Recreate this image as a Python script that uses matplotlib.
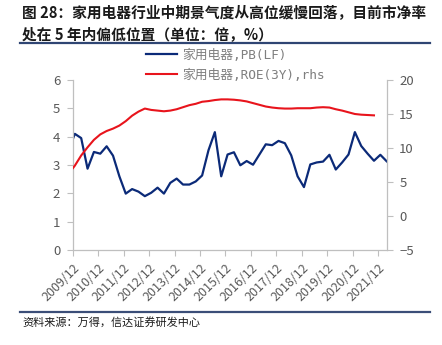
import matplotlib
matplotlib.use("Agg")
import matplotlib.pyplot as plt
import pandas as pd

plt.rcParams['font.family'] = ['Noto Sans CJK SC', 'DejaVu Sans']
plt.rcParams['axes.unicode_minus'] = True

# Observation dates: a year-end start, then quarterly readings
pb_dates = ['2009-12'] + [str(p) for p in pd.period_range('2010-01', periods=50, freq='3M')]
roe_dates = pb_dates[:49]

pb_values = [3.9,
             4.1, 3.95, 2.87, 3.46, 3.4, 3.66, 3.33, 2.6, 1.99, 2.15,
             2.06, 1.9, 2.02, 2.2, 1.99, 2.37, 2.52, 2.31, 2.31, 2.42,
             2.63, 3.52, 4.16, 2.6, 3.37, 3.45, 2.99, 3.14, 3.01, 3.37,
             3.73, 3.7, 3.85, 3.77, 3.34, 2.6, 2.22, 3.02, 3.09, 3.12,
             3.36, 2.84, 3.09, 3.37, 4.16, 3.67, 3.4, 3.15, 3.36, 3.13]
roe_values = [7.0,
              7.4, 8.9, 10.1, 11.2, 12.0, 12.5, 12.85, 13.3, 13.95, 14.75,
              15.35, 15.8, 15.6, 15.5, 15.4, 15.5, 15.7, 16.0, 16.3, 16.5,
              16.8, 16.9, 17.05, 17.15, 17.15, 17.1, 17.0, 16.85, 16.6, 16.35,
              16.1, 15.95, 15.85, 15.8, 15.8, 15.85, 15.85, 15.85, 15.95, 16.0,
              15.95, 15.7, 15.5, 15.25, 15.0, 14.9, 14.85, 14.8]
tick_labels = [f'{y}/12' for y in range(2009, 2022)]

series_names = ['家用电器,PB(LF)', '家用电器,ROE(3Y),rhs']
title_text = '图 28：家用电器行业中期景气度从高位缓慢回落，目前市净率\n处在 5 年内偏低位置（单位：倍，%）'
source_text = '资料来源：万得，信达证券研发中心'

origin = pd.Period('2009-12', freq='M')
def month_offset(d):
    return (pd.Period(d, freq='M') - origin).n

pb_x = [month_offset(d) for d in pb_dates]
roe_x = [month_offset(d) for d in roe_dates]
tick_x = [month_offset(lbl.replace('/', '-')) for lbl in tick_labels]

W, H = 442, 345
fig = plt.figure(figsize=(W / 100, H / 100), dpi=100)

ax = fig.add_axes([72.7 / W, 1 - 250 / H, (386.7 - 72.7) / W, (250 - 80) / H])
ax2 = ax.twinx()

navy = '#0B2A78'
red = '#E8141C'
grey_txt = '#595959'
spine_c = '#BFBFBF'

l1, = ax.plot(pb_x, pb_values, color=navy, lw=1.6, solid_joinstyle='round')
l2, = ax2.plot(roe_x, roe_values, color=red, lw=1.5, solid_joinstyle='round')

ax.set_xlim(0, 148)
ax.set_ylim(0, 6)
ax2.set_ylim(-5, 20)
ax.set_yticks(range(0, 7))
ax2.set_yticks(range(-5, 21, 5))
ax.set_xticks(tick_x)
ax.set_xticklabels(tick_labels, rotation=45, ha='right', rotation_mode='anchor')

for a in (ax, ax2):
    for s in a.spines.values():
        s.set_visible(False)
    a.tick_params(colors=spine_c, labelcolor=grey_txt, labelsize=9.5, length=4, width=0.8)

ax.spines['left'].set_visible(True)
ax.spines['bottom'].set_visible(True)
ax2.spines['right'].set_visible(True)
for s in (ax.spines['left'], ax.spines['bottom'], ax2.spines['right']):
    s.set_color(spine_c)
    s.set_linewidth(0.9)
ax.tick_params(axis='x', labelsize=9, pad=4)
ax.tick_params(axis='y', pad=5)
ax2.tick_params(axis='y', pad=5)

leg = fig.legend([l1, l2], series_names, loc='upper left',
                 bbox_to_anchor=(146 / W, 1 - 48.5 / H), frameon=False,
                 prop={'family': ['DejaVu Sans Mono', 'Noto Sans CJK SC'], 'size': 9.2},
                 labelcolor='#7F7F7F', handlelength=2.4,
                 handletextpad=0.45, borderpad=0, borderaxespad=0, labelspacing=0.55)

# Header and footer
fig.text(22 / W, 1 - 4.5 / H, title_text, ha='left', va='top', fontsize=10.6,
         fontweight='bold', color='#1A1A1A', linespacing=1.4)
fig.add_artist(plt.Line2D([20 / W, 430 / W], [1 - 43 / H, 1 - 43 / H],
                          color='#2F4573', lw=1.6))
fig.add_artist(plt.Line2D([20 / W, 430 / W], [1 - 311.5 / H, 1 - 311.5 / H],
                          color='#3B4E78', lw=1.6))
fig.text(22 / W, 1 - 322.5 / H, source_text, ha='left', va='center',
         fontsize=8, color='#1A1A1A')

fig.savefig('out.png', dpi=100)
